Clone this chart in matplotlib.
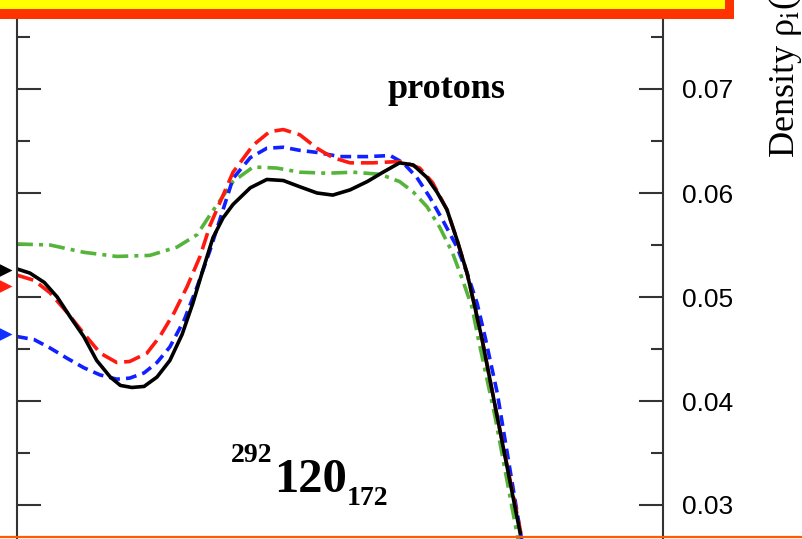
import matplotlib
matplotlib.use("Agg")
import matplotlib.pyplot as plt
import matplotlib.transforms as mtransforms
from matplotlib.patches import Rectangle
from matplotlib.lines import Line2D
from matplotlib.ticker import MultipleLocator

plt.rcParams["mathtext.fontset"] = "stix"

# radial proton densities, r in fm, rho in fm^-3
r_black = [0, 0.18, 0.38, 0.56, 0.74, 0.93, 1.11, 1.30, 1.44, 1.60, 1.77, 1.95, 2.13,
           2.30, 2.45, 2.59, 2.73, 2.87, 3.01, 3.25, 3.48, 3.71, 3.94, 4.18, 4.40, 4.64,
           4.88, 5.10, 5.33, 5.52, 5.71, 5.85, 5.99, 6.13, 6.27, 6.38, 6.48, 6.69, 7.01]
rho_black = [0.0527, 0.0523, 0.0514, 0.0500, 0.0481, 0.0462, 0.0439, 0.0423, 0.0415,
             0.0413, 0.0414, 0.0423, 0.0439, 0.0464, 0.0494, 0.0526, 0.0557, 0.0576,
             0.0589, 0.0605, 0.0613, 0.0612, 0.0606, 0.0600, 0.0598, 0.0603, 0.0611,
             0.0620, 0.0629, 0.0627, 0.0615, 0.0601, 0.0584, 0.0555, 0.0523, 0.0490,
             0.0459, 0.0385, 0.0273]

r_red = [0, 0.24, 0.46, 0.70, 0.93, 1.16, 1.39, 1.57, 1.81, 1.99, 2.19, 2.37, 2.55,
         2.69, 3.01, 3.29, 3.52, 3.71, 3.94, 4.18, 4.40, 4.64, 4.96, 5.24, 5.38, 5.61,
         5.79, 5.89, 5.99, 6.13, 6.27, 6.38, 6.48, 6.69, 7.02]
rho_red = [0.0521, 0.0516, 0.0504, 0.0485, 0.0465, 0.0446, 0.0437, 0.0438, 0.0446,
           0.0462, 0.0485, 0.0510, 0.0539, 0.0569, 0.0620, 0.0646, 0.0659, 0.0661,
           0.0656, 0.0643, 0.0634, 0.0629, 0.0629, 0.0630, 0.0630, 0.0624, 0.0610,
           0.0597, 0.0584, 0.0555, 0.0523, 0.0490, 0.0459, 0.0385, 0.0273]

r_blue = [0, 0.24, 0.46, 0.70, 0.93, 1.16, 1.39, 1.57, 1.77, 1.95, 2.13, 2.33, 2.51,
          2.69, 3.01, 3.25, 3.48, 3.71, 3.94, 4.18, 4.50, 4.88, 5.20, 5.38, 5.57, 5.75,
          5.93, 6.13, 6.27, 6.41, 6.52, 6.69, 7.03]
rho_blue = [0.0462, 0.0459, 0.0451, 0.0441, 0.0432, 0.0425, 0.0421, 0.0422, 0.0427,
            0.0437, 0.0452, 0.0478, 0.0510, 0.0545, 0.0614, 0.0634, 0.0643, 0.0644,
            0.0641, 0.0639, 0.0635, 0.0635, 0.0636, 0.0629, 0.0615, 0.0596, 0.0574,
            0.0548, 0.0523, 0.0494, 0.0462, 0.0408, 0.0267]

r_green = [0, 0.46, 0.93, 1.39, 1.85, 2.23, 2.51, 2.69, 3.01, 3.29, 3.62, 3.94, 4.32,
           4.68, 5.06, 5.33, 5.52, 5.71, 5.89, 6.07, 6.21, 6.34, 6.42, 6.66, 6.98]
rho_green = [0.0551, 0.0550, 0.0543, 0.0539, 0.0540, 0.0548, 0.0560, 0.0579, 0.0611,
             0.0625, 0.0624, 0.0620, 0.0619, 0.0620, 0.0618, 0.0611, 0.0601, 0.0587,
             0.0567, 0.0542, 0.0516, 0.0490, 0.0462, 0.0385, 0.0267]

# central density markers
center_vals = [0.0526, 0.0511, 0.0464]
center_cols = ["black", "#ff2010", "#1030ff"]

yticks = [0.03, 0.04, 0.05, 0.06, 0.07]

W, H = 802, 539
fig = plt.figure(figsize=(W / 100, H / 100), dpi=100)
ax = fig.add_axes([17 / W, 0, 646 / W, 1])

lw = 2.6
ax.plot(r_green, rho_green, color="#55b43a", lw=lw, dashes=(4.4, 1.7, 1.1, 1.7))
ax.plot(r_blue, rho_blue, color="#1020ff", lw=lw, dashes=(3.0, 1.7))
ax.plot(r_red, rho_red, color="#ff1a10", lw=lw, dashes=(4.7, 1.9))
ax.plot(r_black, rho_black, color="black", lw=lw)

ax.set_xlim(0, 9)
ax.set_ylim(0.07 - 450 / 10400, 0.07 + 89 / 10400)

ax.spines["top"].set_visible(False)
ax.spines["bottom"].set_visible(False)
for s in ("left", "right"):
    ax.spines[s].set_linewidth(1.5)
    ax.spines[s].set_color("#333333")

ax.set_xticks([])
ax.set_yticks(yticks)
ax.yaxis.set_minor_locator(MultipleLocator(0.005))
ax.set_yticklabels(["%.2f" % v for v in yticks])
ax.tick_params(axis="y", which="both", direction="in", left=True, right=True,
               labelleft=False, labelright=True, colors="#333333")
ax.tick_params(axis="y", which="major", length=17, width=1.5, pad=14,
               labelsize=19, labelcolor="black")
ax.tick_params(axis="y", which="minor", length=9, width=1.5)
for lab in ax.get_yticklabels():
    lab.set_fontfamily("Liberation Sans")

# arrows on the left marking the central values
trans = mtransforms.blended_transform_factory(ax.transAxes, ax.transData)
for v, c in zip(center_vals, center_cols):
    ax.plot([-0.02], [v], marker=">", ms=11, color=c, transform=trans,
            clip_on=False, mec="none")

serif = "Liberation Serif"
fig.text(446 / W, 1 - 98 / H, "protons", ha="center", va="baseline",
         family=serif, fontweight="bold", fontsize=26)
fig.text(272 / W, 1 - 462 / H, "292", ha="right", va="baseline",
         family=serif, fontweight="bold", fontsize=20)
fig.text(274 / W, 1 - 492 / H, "120", ha="left", va="baseline",
         family=serif, fontweight="bold", fontsize=35)
fig.text(347 / W, 1 - 505 / H, "172", ha="left", va="baseline",
         family=serif, fontweight="bold", fontsize=20)

fig.text(795 / W, 1 - 158 / H, r"Density ρ$_\mathrm{i}$(r) (fm$^{-3}$)", rotation=90,
         rotation_mode="anchor", ha="left", va="baseline", family=serif,
         fontsize=26)

# title banner at the top and the frame line at the bottom
fig.add_artist(Rectangle((0, 1 - 19 / H), 734 / W, 19 / H, transform=fig.transFigure,
                         facecolor="#ff3300", edgecolor="none", zorder=5))
fig.add_artist(Rectangle((0, 1 - 9 / H), 725 / W, 9 / H, transform=fig.transFigure,
                         facecolor="#ffff00", edgecolor="none", zorder=6))
fig.add_artist(Line2D([0, 1], [1 - 537 / H, 1 - 537 / H], transform=fig.transFigure,
                      color="#ff5a00", lw=1.6, zorder=5))

fig.savefig("out.png", dpi=100)
